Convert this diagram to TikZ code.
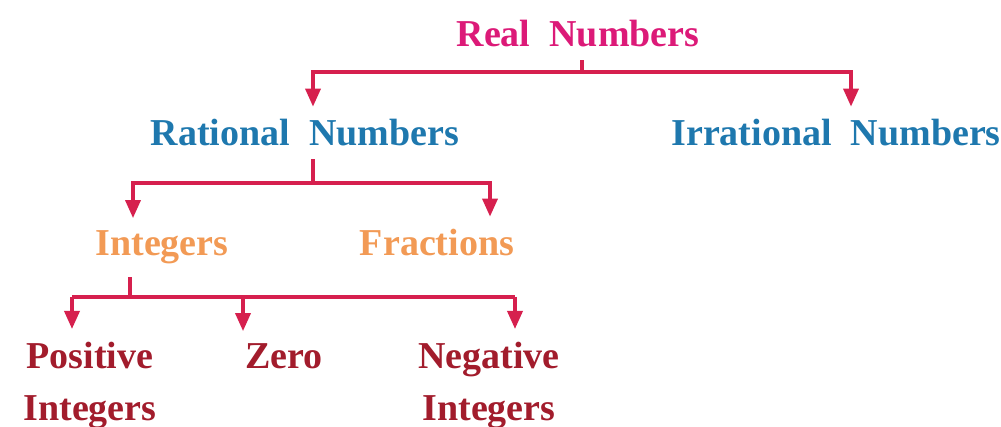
\documentclass[tikz,border=0pt]{standalone}
\usepackage{fontspec}
\setmainfont{Liberation Serif}
\usetikzlibrary{arrows.meta}
\definecolor{cReal}{HTML}{DC1A78}
\definecolor{cRat}{HTML}{1E78AE}
\definecolor{cInt}{HTML}{F29A55}
\definecolor{cLeaf}{HTML}{A21C2C}
\definecolor{cLine}{HTML}{D6204E}
\begin{document}
\begin{tikzpicture}[x=1pt,y=-1pt,
  lbl/.style={font=\bfseries\fontsize{38}{52}\selectfont, inner sep=0pt, outer sep=13pt, anchor=base},
  leaf/.style={lbl, anchor=north, align=center, text=cLeaf},
  conn/.style={draw=cLine, line width=3.5pt},
  arr/.style={conn, -{Triangle[length=18pt,width=15pt]}}]
\useasboundingbox (0,0) rectangle (1001,427);
\node[lbl, text=cReal] (real) at (578,47) {Real\ \ Numbers};
\node[lbl, text=cRat] (rat) at (305,146) {Rational\ \ Numbers};
\node[lbl, text=cRat] (irr) at (836,146) {Irrational\ \ Numbers};
\node[lbl, text=cInt] (int) at (162,256) {Integers};
\node[lbl, text=cInt] (frac) at (437,256) {Fractions};
\node[leaf] (pos) at (90,329) {Positive\\Integers};
\node[lbl, text=cLeaf] (zero) at (284,369) {Zero};
\node[leaf] (neg) at (489,329) {Negative\\Integers};
% level 1
\coordinate (j1) at (582,72);
\draw[conn] ([xshift=4pt]real.south) -- (j1);
\draw[arr] (j1) -| ([xshift=8pt]rat.north);
\draw[arr] (j1) -| ([xshift=15pt]irr.north);
% level 2
\coordinate (j2) at (313,183);
\draw[conn] ([xshift=8pt]rat.south) -- (j2);
\draw[arr] (j2) -| ([xshift=-29pt]int.north);
\draw[arr] (j2) -| ([xshift=53pt]frac.north);
% level 3
\coordinate (j3) at (130,297);
\draw[conn] ([xshift=-32pt]int.south) -- (j3);
\draw[arr] ([xshift=-18pt]pos.north |- j3) -- ([xshift=-18pt]pos.north) ;
\draw[conn] ([xshift=-18pt]pos.north |- j3) -- ([xshift=26pt]neg.north |- j3);
\draw[arr] ([xshift=-41pt]zero.north |- j3) -- ([xshift=-41pt]zero.north);
\draw[arr] ([xshift=26pt]neg.north |- j3) -- ([xshift=26pt]neg.north);
\end{tikzpicture}
\end{document}
